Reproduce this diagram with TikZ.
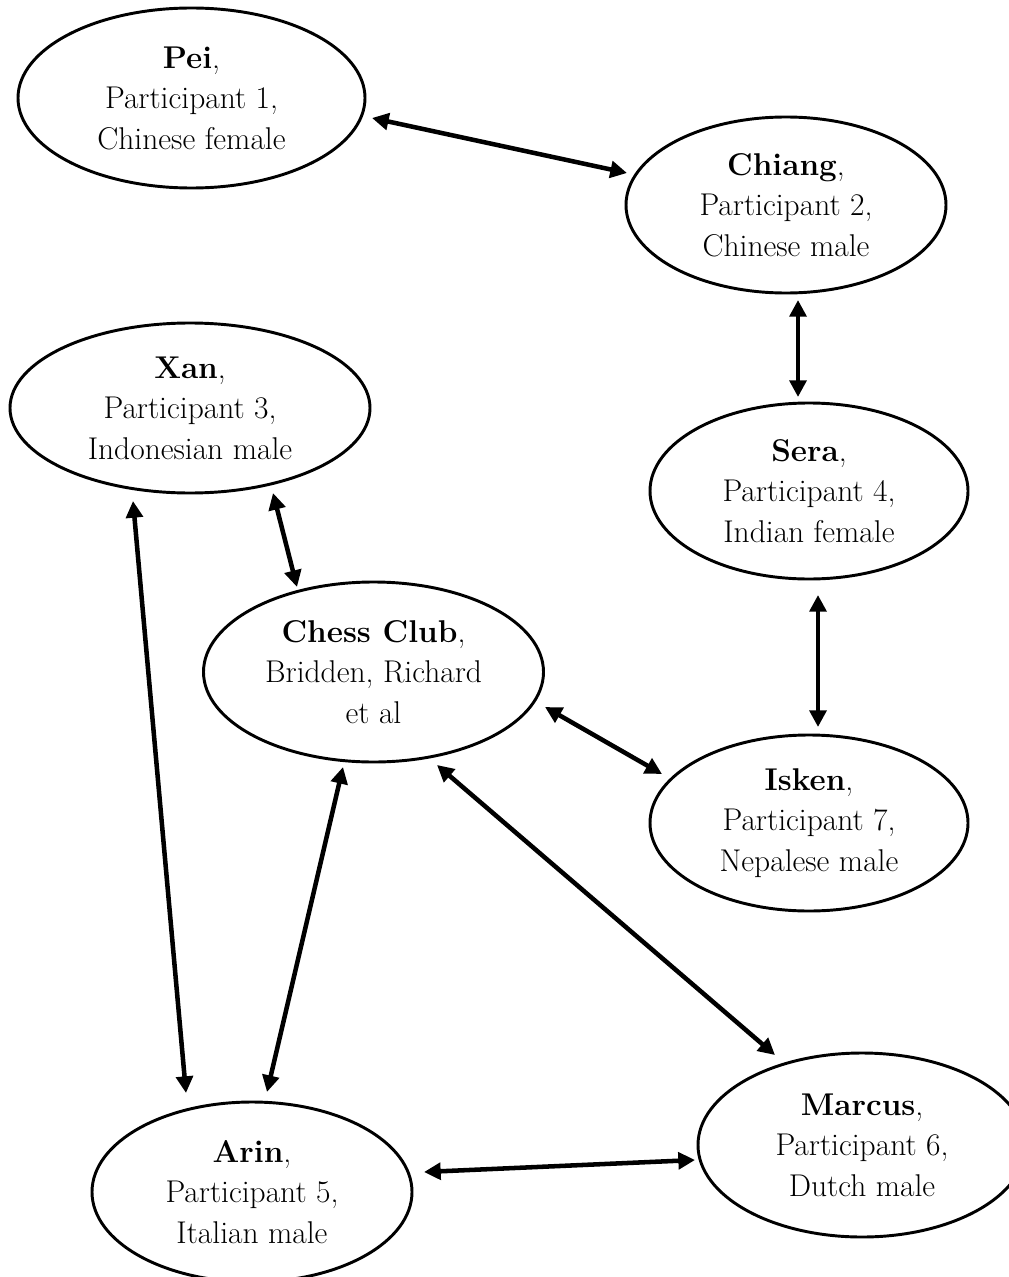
\documentclass[tikz,border=0pt]{standalone}
\usetikzlibrary{shapes.geometric,arrows.meta}
\begin{document}
\begin{tikzpicture}[x=0.75pt,y=-0.75pt,
  pnode/.style={ellipse, draw, line width=2.2pt, inner sep=0pt, align=center,
    font=\fontsize{23.6}{30.4}\selectfont},
  link/.style={line width=3.4pt, {Triangle[length=12.5pt,width=12.5pt]}-{Triangle[length=12.5pt,width=12.5pt]}}]
\useasboundingbox (0,0) rectangle (1008,1277);
\node[pnode, minimum width=260.25pt, minimum height=135pt] (pei) at (191.5,98) {\textbf{Pei},\\Participant 1,\\Chinese female};
\node[pnode, minimum width=240pt, minimum height=132pt] (chiang) at (786,205) {\textbf{Chiang},\\Participant 2,\\Chinese male};
\node[pnode, minimum width=270pt, minimum height=127.5pt] (xan) at (190,408) {\textbf{Xan},\\Participant 3,\\Indonesian male};
\node[pnode, minimum width=238.5pt, minimum height=132pt] (sera) at (809,491) {\textbf{Sera},\\Participant 4,\\Indian female};
\node[pnode, minimum width=255pt, minimum height=135pt] (chess) at (373.5,672) {\textbf{Chess Club},\\Bridden, Richard\\et al};
\node[pnode, minimum width=238.5pt, minimum height=132pt] (isken) at (809,823) {\textbf{Isken},\\Participant 7,\\Nepalese male};
\node[pnode, minimum width=246pt, minimum height=138pt] (marcus) at (862,1145) {\textbf{Marcus},\\Participant 6,\\Dutch male};
\node[pnode, minimum width=240pt, minimum height=135pt] (arin) at (252,1192) {\textbf{Arin},\\Participant 5,\\Italian male};
\coordinate (pc1) at (372,118);  \coordinate (pc2) at (627,173);
\coordinate (cs1) at (798,300);  \coordinate (cs2) at (798,397);
\coordinate (si1) at (818,595);  \coordinate (si2) at (818,727);
\coordinate (xc1) at (273,493);  \coordinate (xc2) at (297,587);
\coordinate (xa1) at (133,501);  \coordinate (xa2) at (186,1093);
\coordinate (ci1) at (545,707);  \coordinate (ci2) at (662,774);
\coordinate (ca1) at (343,767);  \coordinate (ca2) at (267,1092);
\coordinate (cm1) at (437,765);  \coordinate (cm2) at (775,1055);
\coordinate (am1) at (424,1172); \coordinate (am2) at (695,1160);
\draw[link] (pc1) -- (pc2);
\draw[link] (cs1) -- (cs2);
\draw[link] (si1) -- (si2);
\draw[link] (xc1) -- (xc2);
\draw[link] (xa1) -- (xa2);
\draw[link] (ci1) -- (ci2);
\draw[link] (ca1) -- (ca2);
\draw[link] (cm1) -- (cm2);
\draw[link] (am1) -- (am2);
\end{tikzpicture}
\end{document}
